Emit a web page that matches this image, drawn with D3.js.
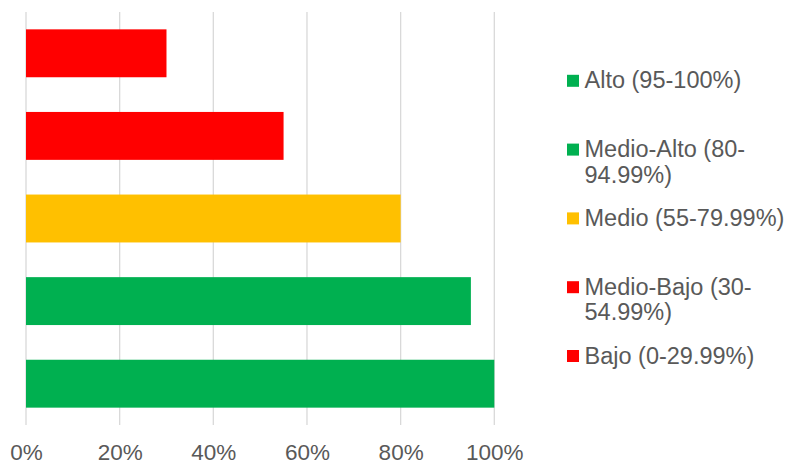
<!DOCTYPE html>
<html lang="en">
<head>
  <meta charset="UTF-8">
  <script src="https://cdnjs.cloudflare.com/ajax/libs/d3/7.8.5/d3.min.js"></script>
  <style>
    body { margin: 0; background: #fff; font-family: 'Liberation Sans', Arial, sans-serif; }
    text { fill: #595959; }
  </style>
  <title>Niveles</title>
</head>
<body>
  <div id="chart"></div>
<script>
  // bars, top to bottom
  var categories = ["Bajo", "Medio-Bajo", "Medio", "Medio-Alto", "Alto"];
  var values = [0.30, 0.55, 0.80, 0.95, 1.00];
  var barColors = ["#FF0000", "#FF0000", "#FFC000", "#00B050", "#00B050"];

  var ticks = [0, 0.2, 0.4, 0.6, 0.8, 1.0];

  // legend entries (already wrapped like the original)
  var legendLines = [
    ["Alto (95-100%)"],
    ["Medio-Alto (80-", "94.99%)"],
    ["Medio (55-79.99%)"],
    ["Medio-Bajo (30-", "54.99%)"],
    ["Bajo (0-29.99%)"]
  ];
  var legendColors = ["#00B050", "#00B050", "#FFC000", "#FF0000", "#FF0000"];

  var W = 787, H = 461;
  var svg = d3.select("#chart").append("svg")
    .attr("width", W).attr("height", H);

  var x = d3.scaleLinear().domain([0, 1]).range([26, 494.3]);
  var y = d3.scaleBand().domain(categories).range([12, 425]).paddingInner(0.42).paddingOuter(0.21);

  // gridlines
  svg.append("g").selectAll("line").data(ticks).join("line")
    .attr("x1", d => x(d)).attr("x2", d => x(d))
    .attr("y1", 12).attr("y2", 425)
    .attr("stroke", "#D9D9D9").attr("stroke-width", 1.3);

  // bars
  svg.append("g").selectAll("rect").data(values).join("rect")
    .attr("x", x(0))
    .attr("y", (d, i) => y(categories[i]))
    .attr("width", d => x(d) - x(0))
    .attr("height", y.bandwidth())
    .attr("fill", (d, i) => barColors[i]);

  // x axis labels
  var xAxis = svg.append("g")
    .attr("transform", "translate(0,425)")
    .call(d3.axisBottom(x).tickValues(ticks).tickFormat(d3.format(".0%")).tickSize(0).tickPadding(0));
  xAxis.select(".domain").remove();
  xAxis.selectAll("text")
    .attr("dy", null).attr("y", 34.5)
    .style("font-size", "22.5px")
    .style("font-family", "'Liberation Sans', Arial, sans-serif")
    .attr("fill", "#595959");

  // legend
  var leg = svg.append("g").selectAll("g").data(legendLines).join("g")
    .attr("transform", (d, i) => "translate(0," + (88.3 + i * 68.8) + ")");
  leg.append("rect")
    .attr("x", 567).attr("y", -13.5).attr("width", 12).attr("height", 12)
    .attr("fill", (d, i) => legendColors[i]);
  leg.append("text")
    .attr("x", 584.5)
    .style("font-size", "23.5px")
    .selectAll("tspan").data(d => d).join("tspan")
    .attr("x", 584.5)
    .attr("dy", (d, j) => j ? 25.5 : 0)
    .text(d => d);
</script>
</body>
</html>
